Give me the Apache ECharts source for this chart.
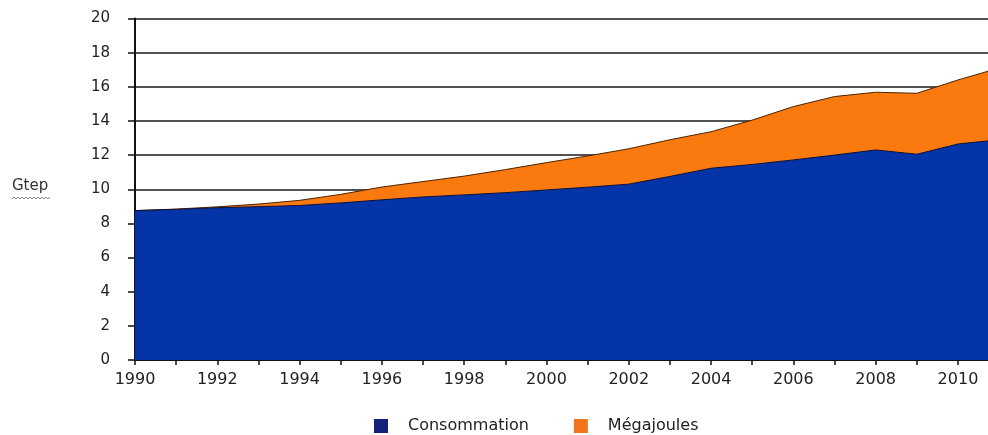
<!DOCTYPE html>
<html>
<head>
<meta charset="utf-8">
<script src="https://cdn.jsdelivr.net/npm/echarts@6/dist/echarts.min.js"></script>
<style>
  html, body { margin: 0; padding: 0; background: #fff; }
  #chart { width: 988px; height: 435px; }
</style>
</head>
<body>
<div id="chart"></div>
<script>
// donnees (Gtep)
var years = [1990, 1991, 1992, 1993, 1994, 1995, 1996, 1997, 1998, 1999, 2000,
  2001, 2002, 2003, 2004, 2005, 2006, 2007, 2008, 2009, 2010, 2011]
var consommation = [8.75, 8.82, 8.92, 8.98, 9.05, 9.2, 9.38, 9.55, 9.67, 9.8, 9.96,
  10.12, 10.3, 10.75, 11.23, 11.45, 11.72, 12.0, 12.3, 12.05, 12.65, 12.9]
var megajoules = [0, 0.02, 0.05, 0.15, 0.3, 0.5, 0.75, 0.9, 1.1, 1.35, 1.6,
  1.83, 2.07, 2.15, 2.14, 2.6, 3.12, 3.43, 3.38, 3.57, 3.75, 4.2]
var yTicks = [0, 2, 4, 6, 8, 10, 12, 14, 16, 18, 20]

var font = 'DejaVu Sans'

// empilement fait a la main (deux axes "value")
var total = consommation.map(function (v, i) { return v + megajoules[i] })

function pairs (vals) {
  return years.map(function (y, i) { return [y, vals[i]] })
}

var chart = echarts.init(document.getElementById('chart'))
var option = {
  animation: false,
  textStyle: { fontFamily: font },
  grid: { left: 135, right: 0, top: 18.5, bottom: 75 },
  legend: {
    left: 369,
    top: 413,
    itemWidth: 14,
    itemHeight: 14,
    itemGap: 45,
    icon: 'rect',
    textStyle: { fontFamily: font, fontSize: 16, color: '#222', padding: [0, 0, 0, 15] },
    data: [
      { name: 'Consommation', itemStyle: { color: '#13237a' } },
      { name: 'Mégajoules', itemStyle: { color: '#f2741c' } }
    ]
  },
  graphic: [
    {
      type: 'text',
      left: 12,
      top: 179,
      style: { text: 'Gtep', font: '15px DejaVu Sans', fill: '#333' }
    },
    {
      type: 'polyline',
      shape: { points: [[12, 199], [14, 197], [16, 199], [18, 197], [20, 199], [22, 197], [24, 199], [26, 197], [28, 199], [30, 197], [32, 199], [34, 197], [36, 199], [38, 197], [40, 199], [42, 197], [44, 199], [46, 197], [48, 199], [50, 197]] },
      style: { stroke: '#666', lineWidth: 0.8, fill: null }
    }
  ],
  xAxis: {
    type: 'value',
    min: 1990,
    max: 2010.73,
    interval: 1,
    axisLine: { onZero: false, lineStyle: { color: '#111', width: 2 } },
    axisTick: { length: 5, lineStyle: { color: '#111', width: 1.5 } },
    axisLabel: {
      fontSize: 16,
      color: '#222',
      margin: 12,
      showMaxLabel: false,
      formatter: function (v) { return v % 2 === 0 ? String(v) : '' }
    },
    splitLine: { show: false }
  },
  yAxis: {
    type: 'value',
    min: yTicks[0],
    max: yTicks[yTicks.length - 1],
    interval: 2,
    axisLine: { show: true, lineStyle: { color: '#111', width: 2 } },
    axisTick: { show: true, length: 7, lineStyle: { color: '#111', width: 1.5 } },
    axisLabel: { fontSize: 15, color: '#222', margin: 25 },
    splitLine: { lineStyle: { color: '#1a1a1a', width: 1.5 } }
  },
  series: [
    {
      name: 'Mégajoules',
      type: 'line',
      symbol: 'none',
      data: pairs(total),
      itemStyle: { color: '#f2741c' },
      lineStyle: { color: '#4a2500', width: 1 },
      areaStyle: { color: '#fb7a10', opacity: 1 }
    },
    {
      name: 'Consommation',
      type: 'line',
      symbol: 'none',
      data: pairs(consommation),
      itemStyle: { color: '#13237a' },
      lineStyle: { color: '#0a1240', width: 1 },
      areaStyle: { color: '#0533a8', opacity: 1 }
    }
  ]
}
chart.setOption(option)
</script>
</body>
</html>
